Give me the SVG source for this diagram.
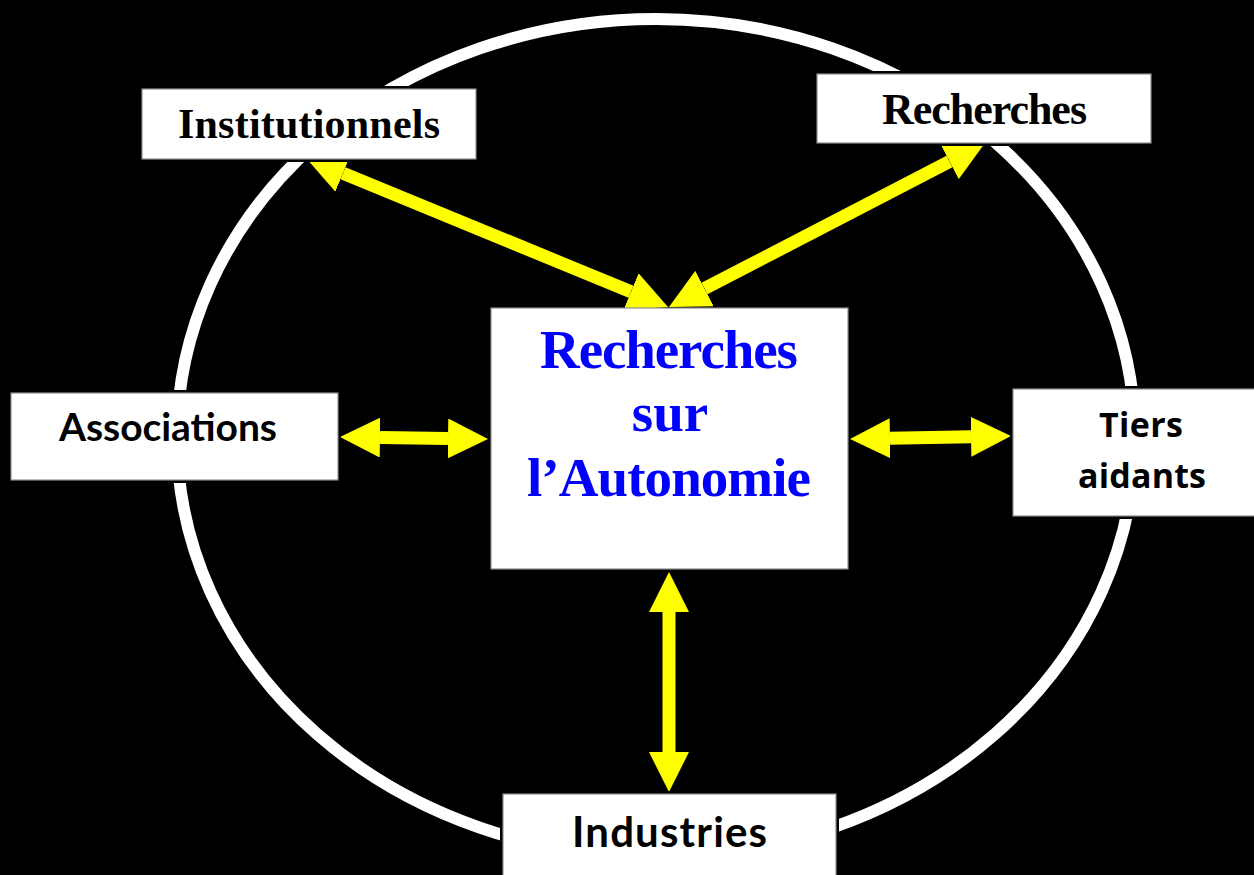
<svg xmlns="http://www.w3.org/2000/svg" width="1254" height="875" viewBox="0 0 1254 875">
  <style>
    .box { fill: #ffffff; stroke: #8c8c8c; stroke-width: 1.2; }
    .halo { fill: #000000; }
    .serif { font-family: "Liberation Serif", "Times New Roman", serif; font-weight: bold; fill: #000000; text-anchor: middle; }
    .sans { font-family: Lato, "Open Sans", "Liberation Sans", sans-serif; font-weight: bold; fill: #000000; text-anchor: middle; }
    .sans2 { font-family: "Open Sans", Lato, "Liberation Sans", sans-serif; font-weight: bold; fill: #000000; text-anchor: middle; }
    .center { fill: #0000ff; }
    .arrow { stroke: #ffff00; stroke-width: 13; fill: none; marker-start: url(#head); marker-end: url(#head); }
  </style>
  <defs>
    <marker id="head" viewBox="0 0 40 40" refX="0" refY="20" markerWidth="40" markerHeight="40" markerUnits="userSpaceOnUse" orient="auto-start-reverse">
      <path d="M0,0 L40,20 L0,40 Z" fill="#ffff00"/>
    </marker>
  </defs>
  <rect x="0" y="0" width="1254" height="875" fill="#000000"/>

  <ellipse id="ring" cx="656" cy="438" rx="479" ry="419" fill="none" stroke="#ffffff" stroke-width="12"/>

  <g id="connectors">
    <line class="arrow" x1="343" y1="173.2" x2="631" y2="291.8"/>
    <line class="arrow" x1="704.5" y1="288.6" x2="949.5" y2="161.4"/>
    <line class="arrow" x1="380" y1="437.5" x2="448" y2="438.5"/>
    <line class="arrow" x1="890" y1="438.3" x2="971" y2="436.7"/>
    <line class="arrow" x1="669" y1="612" x2="669" y2="752"/>
  </g>

  <g id="node-institutionnels">
    <rect class="halo" x="139" y="86" width="340" height="76"/>
    <rect class="box" x="142" y="89" width="334" height="70"/>
    <text class="serif" x="309" y="138" font-size="42" textLength="262">Institutionnels</text>
  </g>

  <g id="node-recherches">
    <rect class="halo" x="814" y="71" width="340" height="75"/>
    <rect class="box" x="817" y="74" width="334" height="69"/>
    <text class="serif" x="984.5" y="124" font-size="44" textLength="205">Recherches</text>
  </g>

  <g id="node-associations">
    <rect class="halo" x="8" y="390" width="333" height="93"/>
    <rect class="box" x="11" y="393" width="327" height="87"/>
    <text class="sans" x="168" y="441" font-size="39" textLength="218">Associations</text>
  </g>

  <g id="node-tiers-aidants">
    <rect class="halo" x="1010" y="386" width="250" height="133"/>
    <rect class="box" x="1013" y="389" width="245" height="127"/>
    <text class="sans2" x="1141" y="437" font-size="34" textLength="84">Tiers</text>
    <text class="sans2" x="1142" y="488" font-size="34" textLength="128">aidants</text>
  </g>

  <g id="node-industries">
    <rect class="halo" x="500" y="791" width="339" height="90"/>
    <rect class="box" x="503" y="794" width="333" height="90"/>
    <text class="sans" x="669.5" y="847" font-size="42" textLength="195">Industries</text>
  </g>

  <g id="node-center">
    <rect class="box" x="491" y="308" width="357" height="261"/>
    <text class="serif center" x="669" y="368" font-size="55" textLength="258">Recherches</text>
    <text class="serif center" x="670" y="431" font-size="55">sur</text>
    <text class="serif center" x="669" y="496" font-size="55" textLength="284">l’Autonomie</text>
  </g>
</svg>
